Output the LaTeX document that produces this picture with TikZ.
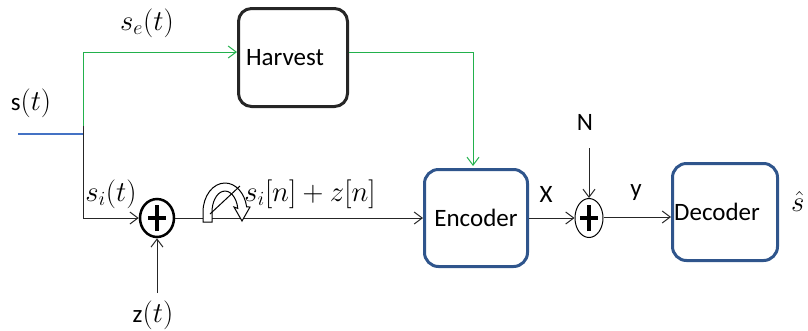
\documentclass[tikz,border=0pt]{standalone}
\usepackage{graphicx}
\usepackage{fontspec}
\setmainfont{Carlito}
\usetikzlibrary{arrows.meta,shapes.geometric}
\definecolor{grn}{RGB}{34,177,76}
\definecolor{bbox}{RGB}{47,85,140}
\definecolor{bline}{RGB}{68,114,196}
\newcommand{\mylblmath}[1]{\scalebox{1.16}{$#1$}}
\begin{document}
\begin{tikzpicture}[x=1pt,y=1pt,
  every node/.style={font=\fontsize{25}{30}\selectfont},
  lbl/.style={inner sep=0pt},
  arr/.style={-{Straight Barb[length=8pt,width=12pt]}, line width=1pt},
  wire/.style={line width=1pt, draw=black!85},
  blkbox/.style={draw=black!85, line width=3pt, rounded corners=13pt, inner sep=0pt},
  blubox/.style={draw=bbox, line width=3pt, rounded corners=14pt, inner sep=0pt},
  adder/.style={ellipse, draw=black, inner sep=0pt},
  plussign/.style={path picture={
     \draw[line width=3.5pt,black] ([xshift=-9pt]path picture bounding box.center) -- ([xshift=9pt]path picture bounding box.center);
     \draw[line width=3.5pt,black] ([yshift=-13pt]path picture bounding box.center) -- ([yshift=13pt]path picture bounding box.center);}}
]
\useasboundingbox (0,0) rectangle (808,-330);

% blocks
\node[blkbox, minimum width=109pt, minimum height=98pt] (harv) at (293,-57.5) {Harvest\rule{16pt}{0pt}};
\node[blubox, minimum width=103pt, minimum height=97pt] (enc) at (476,-218) {Encoder};
\node[blubox, minimum width=105pt, minimum height=97pt] (dec) at (725,-212) {Decoder\rule{16pt}{0pt}};
\node[adder, plussign, line width=2.5pt, minimum width=34pt, minimum height=38pt] (add1) at (157,-218) {};
\node[adder, plussign, line width=1pt, minimum width=28pt, minimum height=39pt] (add2) at (589,-218) {};

% labels
\node[lbl] (st) at (31,-103) {s\mylblmath{(t)}};
\node[lbl] (se) at (147,-23) {\mylblmath{s_e(t)}};
\node[lbl] (si) at (111,-194) {\mylblmath{s_i(t)}};
\node[lbl] (zt) at (153,-315) {z\mylblmath{(t)}};
\node[lbl] (sz) at (310,-194) {\mylblmath{s_i[n]+z[n]}};
\node[lbl] (xl) at (546,-194) {X};
\node[lbl] (yl) at (636,-193) {y};
\node[lbl] (nl) at (585,-122) {N};
\node[lbl, anchor=base west] (sh) at (791,-211) {\mylblmath{\hat{s}}};

% coordinates
\coordinate (sin) at (18,-134);
\coordinate (j) at (83,-134);
\coordinate (jg) at (83,-126);
\coordinate (zs) at (157,-293);
\coordinate (ns) at (589,-148);

% input
\draw[bline, line width=1.6pt] (sin) -- (j);
\draw[grn, arr] (jg) |- ([yshift=5.5pt]harv.west);
\draw[grn, arr] ([yshift=5.5pt]harv.east) -| ([xshift=-3pt,yshift=2pt]enc.north);
\draw[wire, arr] (jg) |- (add1.west);
\draw[wire, arr] (zs) -- (add1.south);
\draw[wire, arr] (add1.east) -- (enc.west);

% sampler symbol
\begin{scope}[shift={(225,-212)}]
\draw[fill=white, line width=1pt] (-22,-10) -- (-22,0)
  arc[start angle=180, end angle=10, x radius=22pt, y radius=29pt]
  -- (25,5) -- (17,-9) -- (9,5) -- (12.8,3.6)
  arc[start angle=10, end angle=180, x radius=13pt, y radius=21pt]
  -- (-13,-10) -- cycle;
\draw[line width=1pt] (-15,-2) -- (15,26);
\end{scope}

% encoder -> channel -> decoder
\draw[wire, arr] (enc.east) -- (add2.west);
\draw[wire, arr] (ns) -- (add2.north);
\draw[wire, arr] ([yshift=1pt]add2.east) -- ([yshift=1pt]add2.east -| dec.west);
\end{tikzpicture}
\end{document}
